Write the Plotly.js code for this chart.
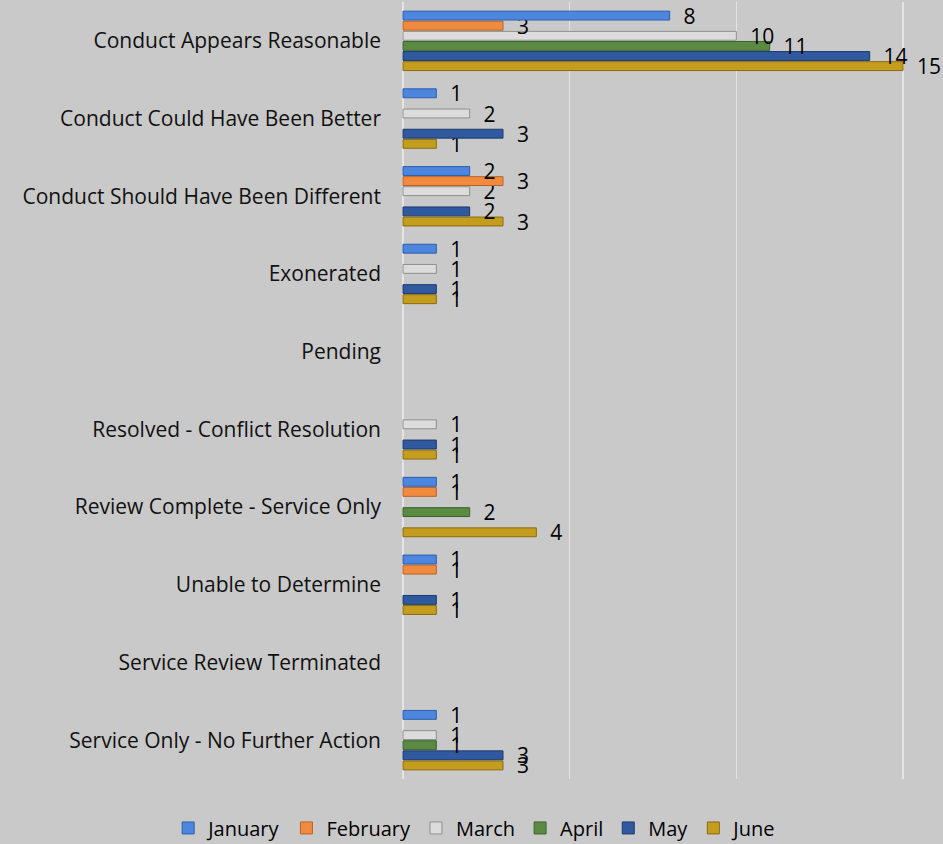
<!DOCTYPE html>
<html>
<head>
<meta charset="utf-8">
<script src="https://cdn.plot.ly/plotly-3.0.1.min.js"></script>
<style>html,body{margin:0;padding:0;background:#c9c9c9;}#chart{width:943px;height:844px;}</style>
</head>
<body>
<div id="chart"></div>
<script>
const categories = [
  "Conduct Appears Reasonable",
  "Conduct Could Have Been Better",
  "Conduct Should Have Been Different",
  "Exonerated",
  "Pending",
  "Resolved - Conflict Resolution",
  "Review Complete - Service Only",
  "Unable to Determine",
  "Service Review Terminated",
  "Service Only - No Further Action"
];
const january  = [8, 1, 2, 1, null, null, 1, 1, null, 1];
const february = [3, null, 3, null, null, null, 1, 1, null, null];
const march    = [10, 2, 2, 1, null, 1, null, null, null, 1];
const april    = [11, null, null, null, null, null, 2, null, null, 1];
const may      = [14, 3, 2, 1, null, 1, null, 1, null, 3];
const june     = [15, 1, 3, 1, null, 1, 4, 1, null, 3];
const seriesNames = ["January", "February", "March", "April", "May", "June"];
const seriesValues = [january, february, march, april, may, june];
const fillColors = ["#4d86df", "#f08a3e", "#dcdcdc", "#5b8a42", "#3059a0", "#c49c1e"];
const lineColors = ["#2f5ea8", "#b8622a", "#8f8f8f", "#3d6330", "#1d3a6b", "#8a6c10"];

// Traces added June -> January so that earlier months (top of each group) are drawn last,
// keeping their labels above neighbouring bars.
const traces = [];
for (let i = seriesNames.length - 1; i >= 0; i--) {
  traces.push({
    type: "bar",
    orientation: "h",
    name: seriesNames[i],
    y: categories,
    x: seriesValues[i],
    marker: {color: fillColors[i], line: {color: lineColors[i], width: 1}},
    text: seriesValues[i].map(v => v === null ? "" : "\u00a0\u00a0" + v),
    textposition: "outside",
    constraintext: "none",
    cliponaxis: false,
    textfont: {family: "Open Sans, sans-serif", size: 21, color: "#000"},
    hoverinfo: "x+name"
  });
}

const layout = {
  width: 943, height: 844,
  paper_bgcolor: "#c9c9c9",
  plot_bgcolor: "#c9c9c9",
  margin: {l: 401, r: 38, t: 2, b: 65, autoexpand: false},
  barmode: "group",
  bargap: 0.22,
  bargroupgap: 0.12,
  showlegend: true,
  legend: {orientation: "h", x: -0.462, xanchor: "left", y: -0.063, yanchor: "middle",
           font: {family: "Open Sans, sans-serif", size: 20, color: "#000"}, itemwidth: 30,
           bgcolor: "rgba(0,0,0,0)", traceorder: "reversed"},
  xaxis: {range: [-0.06, 15.06], dtick: 5, tick0: 0, showticklabels: false, showgrid: true,
          gridcolor: "#e4e4e4", gridwidth: 1.5, zeroline: false, showline: false, fixedrange: true},
  yaxis: {categoryorder: "array", categoryarray: categories.slice().reverse(),
          showgrid: false, zeroline: false, showline: false, ticks: "",
          ticklabelstandoff: 19,
          tickfont: {family: "Open Sans, sans-serif", size: 21, color: "#111"}}
};

Plotly.newPlot("chart", traces, layout, {displayModeBar: false, staticPlot: true});
</script>
</body>
</html>
